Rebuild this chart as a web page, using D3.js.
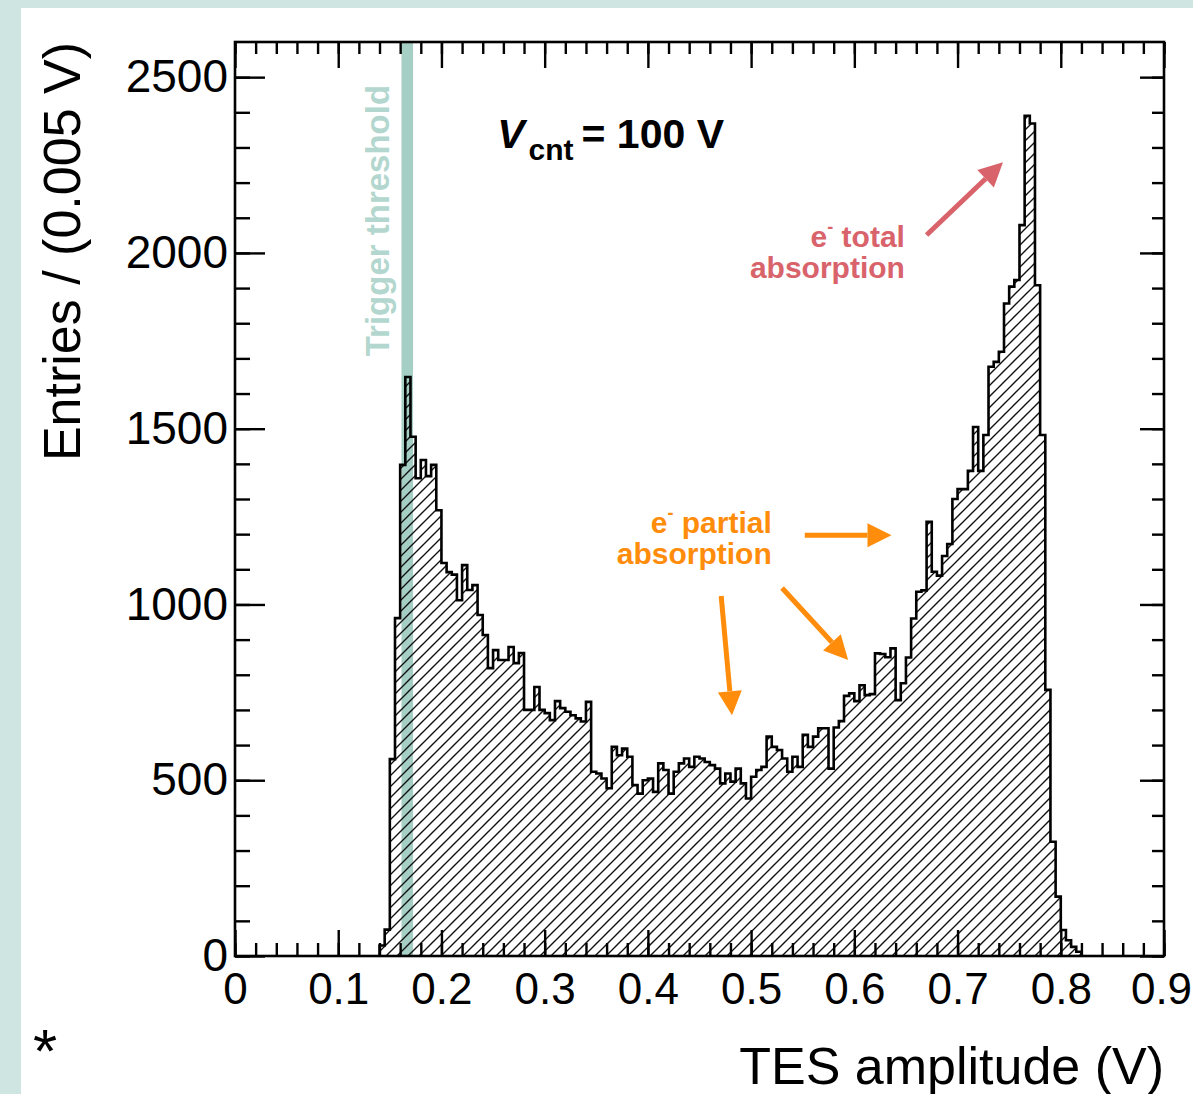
<!DOCTYPE html>
<html>
<head>
<meta charset="utf-8">
<script src="https://cdn.jsdelivr.net/npm/d3@7"></script>
<style>
body { margin: 0; background: #fff; }
svg text { font-family: "Liberation Sans", Arial, Helvetica, sans-serif; }
</style>
</head>
<body>
<svg id="svg" width="1193" height="1094"></svg>
<script>
// histogram, bins of 0.005 V starting at 0.140 V
var binStart = 0.14,
    binWidth = 0.005;
var counts = [
    30, 75, 560, 961, 1397, 1647, 1477, 1359, 1411, 1365,
    1397, 1268, 1118, 1092, 1085, 1012, 1112, 1041, 1055, 970,
    913, 819, 870, 842, 842, 879, 833, 862, 700, 700,
    765, 700, 691, 671, 725, 705, 695, 685, 676, 667,
    723, 524, 519, 505, 477, 595, 571, 590, 567, 486,
    462, 500, 505, 467, 548, 529, 462, 524, 548, 562,
    538, 567, 562, 552, 543, 533, 491, 519, 496, 533,
    491, 448, 510, 529, 538, 624, 595, 586, 562, 524,
    567, 538, 629, 595, 624, 648, 648, 533, 650, 668,
    740, 747, 725, 770, 742, 745, 861, 859, 850, 875,
    728, 776, 849, 960, 1036, 1040, 1235, 1093, 1082, 1138,
    1172, 1300, 1328, 1328, 1380, 1505, 1380, 1482, 1676, 1690,
    1719, 1856, 1904, 1923, 2079, 2390, 2368, 1908, 1482, 757,
    325, 169, 74, 45, 26, 12
];
var xTicks = [0, 0.1, 0.2, 0.3, 0.4, 0.5, 0.6, 0.7, 0.8, 0.9];
var xLabels = ["0", "0.1", "0.2", "0.3", "0.4", "0.5", "0.6", "0.7", "0.8", "0.9"];
var yTicks = [0, 500, 1000, 1500, 2000, 2500];
var yLabels = ["0", "500", "1000", "1500", "2000", "2500"];
var threshold = [0.1613, 0.1725];   // trigger threshold band (V)

var svg = d3.select("#svg"),
    width = 1193,
    height = 1094;

var x = d3.scaleLinear().domain([0, 0.9]).range([235, 1164]);
var y = d3.scaleLinear().domain([0, 2600]).range([956, 42]);

var red = "#d9636b",
    orange = "#ff8c0a",
    teal = "#a5cec4";

// page background
svg.append("rect").attr("width", width).attr("height", height).attr("fill", "#cfe5e2");
svg.append("rect").attr("x", 21).attr("y", 8).attr("width", width - 21).attr("height", height - 8).attr("fill", "#fff");

var defs = svg.append("defs");
defs.append("pattern")
    .attr("id", "hatch")
    .attr("patternUnits", "userSpaceOnUse")
    .attr("width", 11)
    .attr("height", 11)
    .append("path")
    .attr("d", "M-1,1 l2,-2 M0,11 l11,-11 M10,12 l2,-2")
    .attr("stroke", "#111")
    .attr("stroke-width", 1.4);

// trigger threshold band
svg.append("rect")
    .attr("x", x(threshold[0]))
    .attr("y", y(2600))
    .attr("width", x(threshold[1]) - x(threshold[0]))
    .attr("height", y(0) - y(2600))
    .attr("fill", teal);

// step outline of the histogram
var pts = [[binStart, 0]];
counts.forEach(function(c, i) {
    var lo = binStart + i * binWidth;
    pts.push([lo, c]);
    pts.push([lo + binWidth, c]);
});
pts.push([binStart + counts.length * binWidth, 0]);

var line = d3.line()
    .x(function(d) { return x(d[0]); })
    .y(function(d) { return y(d[1]); });

svg.append("path")
    .attr("d", line(pts) + "Z")
    .attr("fill", "url(#hatch)");
svg.append("path")
    .attr("d", line(pts))
    .attr("fill", "none")
    .attr("stroke", "#000")
    .attr("stroke-width", 2.6)
    .attr("stroke-linejoin", "miter");

// ticks on all four sides (ROOT style, pointing inward)
function ticks(axis, pos, minorVals, majorVals, minorLen, majorLen) {
    var g = svg.append("g").attr("transform", pos);
    g.call(axis.tickValues(minorVals).tickSize(-minorLen).tickFormat(""));
    g.selectAll(".domain").remove();
    var g2 = svg.append("g").attr("transform", pos);
    g2.call(axis.tickValues(majorVals).tickSize(-majorLen));
    g2.selectAll(".domain").remove();
    svg.selectAll(".tick line").attr("stroke", "#000").attr("stroke-width", 2.4);
    return g2;
}

var xMinor = d3.range(0, 0.9001, 0.02);
var yMinor = d3.range(0, 2600, 100);

var gx = ticks(d3.axisBottom(x).tickPadding(17), "translate(0,956)", xMinor, xTicks, 13, 26);
gx.selectAll("text")
    .text(function(d, i) { return xLabels[i]; })
    .attr("dx", function(d, i) { return i === xTicks.length - 1 ? -3 : 0; });
ticks(d3.axisTop(x), "translate(0,42)", xMinor, xTicks, 12, 26)
    .selectAll("text").remove();
var gy = ticks(d3.axisLeft(y).tickPadding(7), "translate(235,0)", yMinor, yTicks, 15, 30);
gy.selectAll("text").text(function(d, i) { return yLabels[i]; });
ticks(d3.axisRight(y), "translate(1164,0)", yMinor, yTicks, 12, 24)
    .selectAll("text").remove();

svg.selectAll(".tick text")
    .attr("font-size", 44)
    .attr("font-family", "Liberation Sans, Arial, sans-serif")
    .attr("fill", "#000");
gy.selectAll("text").attr("font-size", 46);

// frame
svg.append("rect")
    .attr("x", x(0)).attr("y", y(2600))
    .attr("width", x(0.9) - x(0)).attr("height", y(0) - y(2600))
    .attr("fill", "none")
    .attr("stroke", "#000")
    .attr("stroke-width", 2.6);

// axis titles
svg.append("text")
    .attr("transform", "translate(80," + y(2600) + ") rotate(-90)")
    .attr("text-anchor", "end")
    .attr("font-size", 52)
    .text("Entries / (0.005 V)");

svg.append("text")
    .attr("x", x(0.9))
    .attr("y", 1084)
    .attr("text-anchor", "end")
    .attr("font-size", 52)
    .text("TES amplitude (V)");

svg.append("text")
    .attr("x", 45)
    .attr("y", 1072)
    .attr("text-anchor", "middle")
    .attr("font-size", 62)
    .text("*");

// trigger threshold label
svg.append("text")
    .attr("transform", "translate(" + (x(0.148) + 1) + "," + y(1706) + ") rotate(-90)")
    .attr("font-size", 33)
    .attr("font-weight", "bold")
    .attr("fill", "#b3d7ce")
    .text("Trigger threshold");

// V_cnt label
var vt = svg.append("text")
    .attr("x", x(0.254))
    .attr("y", y(2298))
    .attr("font-size", 41)
    .attr("font-weight", "bold");
vt.append("tspan").attr("font-style", "italic").text("V");
vt.append("tspan").attr("font-size", 30).attr("dy", 12).attr("dx", 4).text("cnt");
vt.append("tspan").attr("dy", -12).attr("dx", 8).text("= 100 V");

// annotation text
function label(xv, yv, lines, color) {
    lines.forEach(function(l, i) {
        var t = svg.append("text")
            .attr("x", x(xv))
            .attr("y", y(yv) + i * 31)
            .attr("text-anchor", "end")
            .attr("font-size", 30)
            .attr("font-weight", "bold")
            .attr("fill", color);
        if (l.sup) {
            t.append("tspan").text("e");
            t.append("tspan").attr("font-size", 18).attr("dy", -14).text("-");
            t.append("tspan").attr("dy", 14).text(" " + l.text);
        } else {
            t.text(l.text);
        }
    });
}
label(0.649, 2017, [{ sup: true, text: "total" }, { text: "absorption" }], red);
label(0.520, 1203, [{ sup: true, text: "partial" }, { text: "absorption" }], orange);

// arrows
function arrow(x1, y1, x2, y2, color) {
    var ax = x(x1), ay = y(y1), bx = x(x2), by = y(y2);
    var a = Math.atan2(by - ay, bx - ax),
        len = 24, half = 12;
    var cx = bx - len * Math.cos(a), cy = by - len * Math.sin(a);
    svg.append("line")
        .attr("x1", ax).attr("y1", ay)
        .attr("x2", cx).attr("y2", cy)
        .attr("stroke", color)
        .attr("stroke-width", 5);
    svg.append("path")
        .attr("d", "M" + bx + "," + by +
            "L" + (cx + half * Math.sin(a)) + "," + (cy - half * Math.cos(a)) +
            "L" + (cx - half * Math.sin(a)) + "," + (cy + half * Math.cos(a)) + "Z")
        .attr("fill", color);
}
arrow(0.670, 2051, 0.744, 2258, red);
arrow(0.552, 1197, 0.636, 1197, orange);
arrow(0.471, 1024, 0.4815, 685, orange);
arrow(0.530, 1047, 0.594, 842, orange);
</script>
</body>
</html>
